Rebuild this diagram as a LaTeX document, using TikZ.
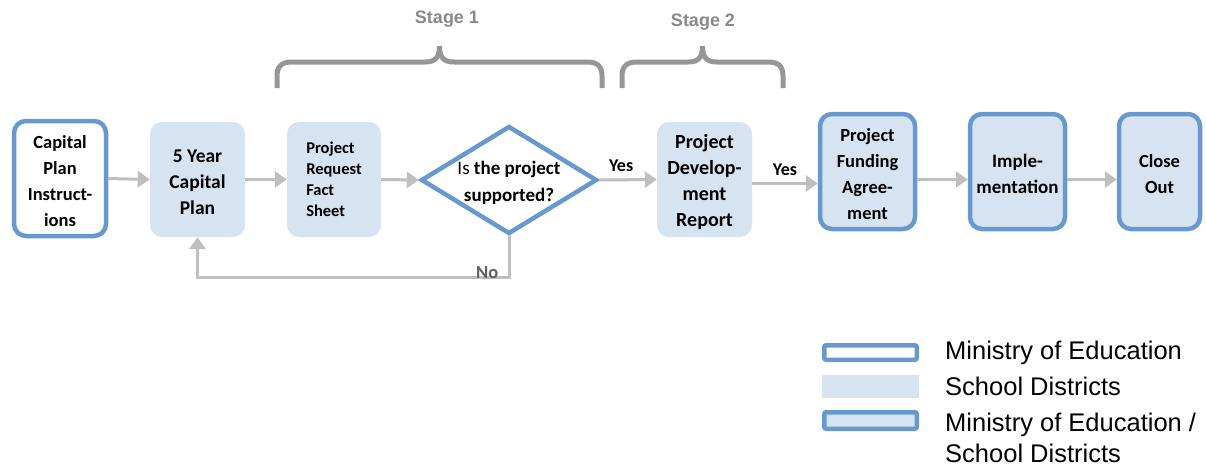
\documentclass[tikz,border=0pt]{standalone}
\usepackage{fontspec}
\setmainfont{Carlito}
\newfontfamily\arialfont{Liberation Sans}
\usetikzlibrary{shapes.geometric,arrows.meta}
\definecolor{edblue}{RGB}{104,153,206}
\definecolor{sdfill}{RGB}{214,227,240}
\definecolor{flowgrey}{RGB}{191,191,191}
\definecolor{bracegrey}{RGB}{150,150,150}
\definecolor{stagegrey}{RGB}{137,137,137}
\definecolor{nogrey}{RGB}{95,95,95}
% taller first line, to sit the box text a little below centre
\newcommand\droptop{\rule{0pt}{19pt}}
\begin{document}
\begin{tikzpicture}[x=1pt,y=-1pt,
  boxtext/.style={align=center, font=\bfseries\fontsize{18.5}{26}\selectfont, inner sep=0pt},
  mobox/.style={boxtext, rounded corners=12pt, draw=edblue, line width=4.5pt, fill=white},
  sdbox/.style={boxtext, rounded corners=12pt, fill=sdfill},
  jointbox/.style={boxtext, rounded corners=12pt, draw=edblue, line width=4.5pt, fill=sdfill},
  flow/.style={draw=flowgrey, line width=3pt, -{Triangle[length=12pt,width=16pt]}},
  yeslabel/.style={font=\bfseries\fontsize{18}{20}\selectfont, text=black},
  nolabel/.style={font=\bfseries\fontsize{18.5}{20}\selectfont, text=nogrey},
  brace/.style={draw=bracegrey, line width=5pt},
  stagelabel/.style={font=\arialfont\bfseries\fontsize{18}{20}\selectfont, text=stagegrey},
  legendtext/.style={font=\arialfont\fontsize{25.5}{31}\selectfont, anchor=west, inner sep=0pt, align=left},
  legendmo/.style={draw=edblue, line width=4.5pt, fill=white, rounded corners=2pt},
  legendsd/.style={fill=sdfill, inner sep=0pt},
  legendjoint/.style={draw=edblue, line width=4.5pt, fill=sdfill, rounded corners=2pt},
]
\useasboundingbox (0,0) rectangle (1206,466);

% process boxes
\node[mobox, minimum width=92pt, minimum height=115pt] (cpi) at (60,178.5) {\droptop Capital\\Plan\\Instruct-\\ions};
\node[sdbox, minimum width=95pt, minimum height=115pt, font=\bfseries\fontsize{19.5}{26}\selectfont] (fyp) at (197.5,179.5) {\droptop 5 Year\\Capital\\Plan};
\node[sdbox, minimum width=94pt, minimum height=115pt, align=left,
      font=\bfseries\fontsize{16.5}{21}\selectfont] (prfs) at (334,179.5) {Project\\Request\\Fact\\Sheet};
\node[diamond, draw=edblue, line width=4.5pt, fill=white, minimum width=176pt, minimum height=108pt,
      inner sep=-12pt, align=center, font=\bfseries\fontsize{19}{27}\selectfont] (dec) at (509,180)
      {\droptop{\mdseries Is} the project\\supported?};
\node[sdbox, minimum width=95pt, minimum height=115pt, font=\bfseries\fontsize{20}{26}\selectfont] (pdr) at (704.5,179.5) {\droptop Project\\Develop-\\ment\\Report};
\node[jointbox, minimum width=95pt, minimum height=115pt] (pfa) at (867.5,171.5) {\droptop Project\\Funding\\Agree-\\ment};
\node[jointbox, minimum width=95pt, minimum height=115pt, font=\bfseries\fontsize{19}{26}\selectfont] (imp) at (1017.5,171.5) {\droptop Imple-\\mentation};
\node[jointbox, minimum width=81pt, minimum height=115pt] (clo) at (1159.5,171.5) {\droptop Close\\Out};

% connectors
\draw[flow] (cpi.east) -- (fyp.west);
\draw[flow] (fyp.east) -- (prfs.west);
\draw[flow] (prfs.east) -- (dec.west);
\draw[flow] (dec.east) -- node[yeslabel, pos=0.38, above=3pt] {Yes} (pdr.west);
\draw[flow] ([yshift=-4pt]pdr.east) coordinate (pdrout) -- node[yeslabel, above=3pt] {Yes} (pdrout -| pfa.west);
\draw[flow] (pfa.east |- fyp.center) -- (imp.west |- fyp.center);
\draw[flow] (imp.east |- fyp.center) -- (clo.west |- fyp.center);
\draw[flow] (dec.south) |- node[nolabel, pos=0.535, yshift=5pt] {No} ([yshift=-40pt]fyp.south) -- (fyp.south);

% stage braces
\draw[brace] (277,88) -- (277,76) .. controls (277,66) and (282,62) .. (292,62) -- (425,62)
  .. controls (435,62) and (439.5,58) .. (439.5,46) .. controls (439.5,58) and (444,62) .. (454,62)
  -- (587,62) .. controls (597,62) and (602,66) .. (602,76) -- (602,88);
\draw[brace] (622,88) -- (622,76) .. controls (622,66) and (627,62) .. (637,62) -- (688,62)
  .. controls (698,62) and (702.5,58) .. (702.5,46) .. controls (702.5,58) and (707,62) .. (717,62)
  -- (768,62) .. controls (778,62) and (783,66) .. (783,76) -- (783,88);
\node[stagelabel] (stage1) at (447,19) {Stage 1};
\node[stagelabel] (stage2) at (703,22) {Stage 2};

% legend
\node[legendmo, minimum width=92.5pt, minimum height=14.5pt, inner sep=0pt] (keymo) at (870.5,352.5) {};
\node[legendsd, minimum width=97pt, minimum height=23pt] (keysd) at (870.5,386.5) {};
\node[legendjoint, minimum width=92.5pt, minimum height=16.5pt, inner sep=0pt] (keyjoint) at (870.5,420.5) {};
\node[legendtext] (txtmo) at (945,353) {Ministry of Education};
\node[legendtext] (txtsd) at (945,386) {School Districts};
\node[legendtext] (txtjoint) at (945,438) {Ministry of Education /\\School Districts};
\end{tikzpicture}
\end{document}
